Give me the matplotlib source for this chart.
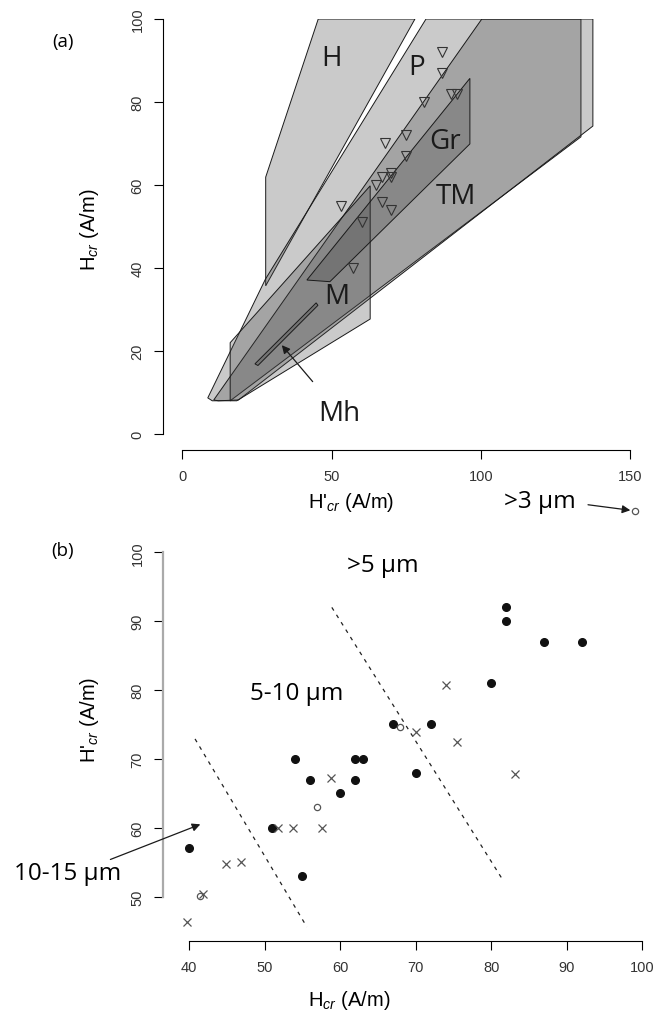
import matplotlib
matplotlib.use('Agg')
from matplotlib import pyplot as plt
from matplotlib.patches import Polygon

plt.rcParams['font.family'] = ['Liberation Sans', 'DejaVu Sans']
plt.rcParams['mathtext.fontset'] = 'custom'
plt.rcParams['mathtext.rm'] = 'Liberation Sans'
plt.rcParams['mathtext.it'] = 'Liberation Sans:italic'

# (b) measured samples, H_cr vs H'_cr
hcr_dot = [82, 82, 87, 92, 80, 67, 72, 54, 62, 63, 56, 62, 70, 60, 51, 40, 55]
hp_dot  = [92, 90, 87, 87, 81, 75, 75, 70, 70, 70, 67, 67, 68, 65, 60, 57, 53]
hcr_x = [58.8, 51.8, 53.7, 57.6, 44.9, 46.9, 41.8, 39.8, 83.2, 74.0, 70.0, 75.5]
hp_x  = [67.3, 60.0, 60.0, 60.0, 54.7, 55.1, 50.4, 46.3, 67.8, 80.7, 73.9, 72.4]
hcr_o = [57.0, 41.5, 67.9]
hp_o  = [63.0, 50.1, 74.7]
hcr_big, hp_big = 99.0, 106.0        # the >3 um sample, off the chart
split1 = ([40.8, 55.6], [72.9, 45.6])
split2 = ([58.9, 81.6], [92.0, 52.3])

# (a) mineral fields in (H'_cr, H_cr)
reg_H  = [(27.9, 35.7), (27.9, 61.9), (45.5, 100), (77.9, 100)]
reg_P  = [(8.5, 8.7), (27.8, 37.3), (81.6, 100), (133.5, 100), (133.5, 71.6), (16.0, 8.0), (10.0, 8.0)]
reg_TM = [(10.5, 8.2), (100.3, 100), (137.5, 100), (137.5, 74.2), (18.8, 8.2), (12.0, 8.0)]
reg_M  = [(16.0, 8.0), (16.0, 22.0), (62.9, 59.8), (62.9, 27.7), (18.2, 8.0)]
reg_Gr = [(41.7, 37.1), (96.3, 85.7), (96.3, 69.9), (49.4, 36.7)]
reg_Mh = [(24.3, 16.9), (44.8, 31.6), (45.4, 31.0), (25.3, 16.5)]
labels = {'H': (50.0, 90.5), 'P': (78.3, 88.4), 'Gr': (88.0, 70.7),
          'TM': (91.7, 57.4), 'M': (51.7, 33.3)}

W, H = 653, 1012
fig = plt.figure(figsize=(W / 100, H / 100), dpi=100)

def px_axes(l, r, t, b):
    return fig.add_axes([l / W, 1 - b / H, (r - l) / W, (b - t) / H])

tick_col = '#333333'

# ---------------- (a)
ax = px_axes(163.3, 649.6, 20, 451)
ax.set_xlim(-6.4, 156.5)
ax.set_ylim(-3.86, 100)
fill = (0.267, 0.267, 0.267, 0.283)
for reg in [reg_H, reg_P, reg_TM, reg_M, reg_Gr, reg_Mh]:
    ax.add_patch(Polygon(reg, closed=True, facecolor=fill, edgecolor='#1a1a1a', lw=0.7))
ax.plot(hp_dot, hcr_dot, 'v', ms=6.5, mfc='none', mec='#333333', mew=0.8, clip_on=False)
for k, (x, y) in labels.items():
    ax.text(x, y, k, fontsize=20, family='Open Sans', ha='center', va='center', color='#1a1a1a')
ax.annotate('Mh', xy=(33.3, 21.4), xytext=(52.6, 5.0), fontsize=20, family='Open Sans',
            ha='center', va='center', color='#1a1a1a',
            arrowprops=dict(arrowstyle='-|>', color='#1a1a1a', lw=0.9, shrinkA=14, shrinkB=0,
                            mutation_scale=12))
ax.set_xticks([0, 50, 100, 150])
ax.set_yticks([0, 20, 40, 60, 80, 100])
ax.spines[['top', 'right']].set_visible(False)
ax.spines['bottom'].set_bounds(0, 150)
ax.spines['left'].set_bounds(0, 100)
ax.tick_params(length=6.5, width=0.8, pad=7, labelsize=10.5, labelcolor=tick_col)
for t in ax.get_yticklabels():
    t.set_rotation(90)
    t.set_va('center')
ax.set_xlabel("H'$_{cr}$ (A/m)", fontsize=14.5)
ax.set_ylabel("H$_{cr}$ (A/m)", fontsize=14.5)
ax.xaxis.set_label_coords(0.387, -0.093)
ax.yaxis.set_label_coords(-0.128, 0.513)

# ---------------- (b)
bx = px_axes(163.3, 653, 539.5, 942.3)
bx.set_xlim(36.6, 101.4)
bx.set_ylim(43.52, 102)
bx.plot(*split1, color='#222222', lw=0.9, ls=(0, (3, 4)))
bx.plot(*split2, color='#222222', lw=0.9, ls=(0, (3, 4)))
bx.plot(hcr_dot, hp_dot, 'o', ms=5.5, color='#111111')
bx.plot(hcr_x, hp_x, 'x', ms=5.5, mec='#555555', mew=0.9)
bx.plot(hcr_o, hp_o, 'o', ms=4.5, mfc='none', mec='#555555', mew=0.9)
bx.plot(hcr_big, hp_big, 'o', ms=4.5, mfc='none', mec='#555555', mew=0.9, clip_on=False)
bx.text(65.6, 98.2, '>5 µm', fontsize=17.5, family='Open Sans', ha='center', va='center')
bx.text(54.3, 79.6, '5-10 µm', fontsize=17.5, family='Open Sans', ha='center', va='center')
bx.text(23.9, 53.5, '10-15 µm', fontsize=17.5, family='Open Sans', ha='center', va='center')
bx.text(86.4, 107.5, '>3 µm', fontsize=17.5, family='Open Sans', ha='center', va='center')
arr = dict(arrowstyle='-|>', color='#1a1a1a', lw=0.9, shrinkA=0, shrinkB=0, mutation_scale=12)
bx.annotate('', xy=(41.5, 60.5), xytext=(29.6, 55.4), arrowprops=arr, annotation_clip=False)
bx.annotate('', xy=(98.4, 106.1), xytext=(92.8, 106.9), arrowprops=arr, annotation_clip=False)
bx.set_xticks([40, 50, 60, 70, 80, 90, 100])
bx.set_yticks([50, 60, 70, 80, 90, 100])
bx.spines[['top', 'right']].set_visible(False)
bx.spines['bottom'].set_bounds(40, 100)
bx.spines['left'].set_bounds(50, 100)
bx.spines['left'].set_color('#aaaaaa')
bx.spines['left'].set_linewidth(1.6)
bx.tick_params(length=6.5, width=0.8, pad=7, labelsize=10.5, labelcolor=tick_col)
for t in bx.get_yticklabels():
    t.set_rotation(90)
    t.set_va('center')
bx.set_xlabel("H$_{cr}$ (A/m)", fontsize=14.5)
bx.set_ylabel("H'$_{cr}$ (A/m)", fontsize=14.5)
bx.xaxis.set_label_coords(0.379, -0.115)
bx.yaxis.set_label_coords(-0.128, 0.552)

fig.text(63 / W, 1 - 42 / H, '(a)', fontsize=13.5, family='Open Sans', ha='center', va='center')
fig.text(63 / W, 1 - 551 / H, '(b)', fontsize=13.5, family='Open Sans', ha='center', va='center')

fig.savefig('out.png', dpi=100)
